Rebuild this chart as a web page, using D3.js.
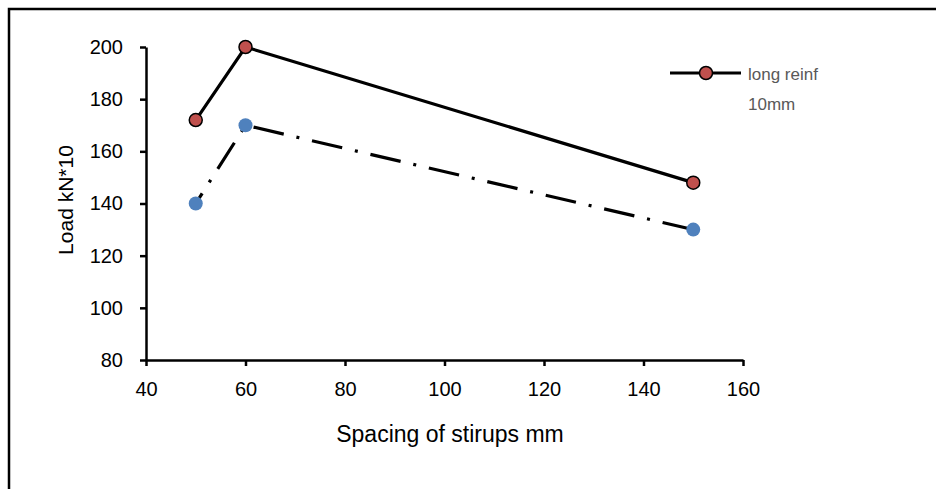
<!DOCTYPE html>
<html><head><meta charset="utf-8">
<script src="https://cdn.jsdelivr.net/npm/d3@7"></script>
<style>body{margin:0;background:#fff}svg{display:block}</style>
</head><body>
<script>
const spacing = [50, 60, 150];
const longReinf10 = [172, 200, 148];
const series2 = [140, 170, 130];
const xTicks = [40, 60, 80, 100, 120, 140, 160];
const yTicks = [80, 100, 120, 140, 160, 180, 200];
const legendLabel = ["long reinf", "10mm"];

const W = 936, H = 489;
const svg = d3.select("body").append("svg").attr("width", W).attr("height", H);
svg.append("rect").attr("width", W).attr("height", H).attr("fill", "#fff");
// outer border (left and top visible)
svg.append("path").attr("d", `M9,${H} L9,9 L${W},9`).attr("fill", "none").attr("stroke", "#000").attr("stroke-width", 2.5);

const x = d3.scaleLinear().domain([40, 160]).range([146, 743]);
const y = d3.scaleLinear().domain([80, 200]).range([360, 47]);
const font = "Liberation Sans, Arial, sans-serif";

const xAxis = svg.append("g").attr("transform", "translate(0,360)")
  .call(d3.axisBottom(x).tickValues(xTicks).tickSize(6).tickSizeOuter(0).tickPadding(16));
const yAxis = svg.append("g").attr("transform", "translate(146,0)")
  .call(d3.axisLeft(y).tickValues(yTicks).tickSize(6).tickSizeOuter(0).tickPadding(17));
[xAxis, yAxis].forEach(g => {
  g.select(".domain").attr("stroke", "#000").attr("stroke-width", 2.5);
  g.selectAll(".tick line").attr("stroke", "#000").attr("stroke-width", 2.5);
  g.selectAll(".tick text").attr("fill", "#000").style("font-family", font).style("font-size", "20px");
});

const pts1 = spacing.map((s, i) => [s, longReinf10[i]]);
const pts2 = spacing.map((s, i) => [s, series2[i]]);
const line = d3.line().x(d => x(d[0])).y(d => y(d[1]));

svg.append("path").datum(pts2).attr("d", line).attr("fill", "none")
  .attr("stroke", "#000").attr("stroke-width", 3.2)
  .attr("stroke-dasharray", "31 13 3 13").attr("stroke-dashoffset", 19);
svg.append("path").datum(pts1).attr("d", line).attr("fill", "none")
  .attr("stroke", "#000").attr("stroke-width", 3.2);

svg.selectAll("circle.s2").data(pts2).join("circle").attr("class", "s2")
  .attr("cx", d => x(d[0])).attr("cy", d => y(d[1])).attr("r", 7).attr("fill", "#4f81bd");
svg.selectAll("circle.s1").data(pts1).join("circle").attr("class", "s1")
  .attr("cx", d => x(d[0])).attr("cy", d => y(d[1])).attr("r", 6.5)
  .attr("fill", "#c0504d").attr("stroke", "#000").attr("stroke-width", 1.5);

// legend
const lg = svg.append("g");
lg.append("line").attr("x1", 670).attr("x2", 741).attr("y1", 73).attr("y2", 73)
  .attr("stroke", "#000").attr("stroke-width", 3.2);
lg.append("circle").attr("cx", 706).attr("cy", 73).attr("r", 6.5)
  .attr("fill", "#c0504d").attr("stroke", "#000").attr("stroke-width", 1.5);
lg.selectAll("text").data(legendLabel).join("text")
  .attr("x", 748).attr("y", (d, i) => 80 + i * 30).text(d => d)
  .attr("fill", "#595959").style("font-family", font).style("font-size", "17px");

svg.append("text").attr("transform", "translate(73,200) rotate(-90)")
  .attr("text-anchor", "middle").text("Load kN*10")
  .style("font-family", font).style("font-size", "21px").attr("fill", "#000");
svg.append("text").attr("x", 450).attr("y", 442).attr("text-anchor", "middle")
  .text("Spacing of stirups mm")
  .style("font-family", font).style("font-size", "23px").attr("fill", "#000");
</script>
</body></html>
